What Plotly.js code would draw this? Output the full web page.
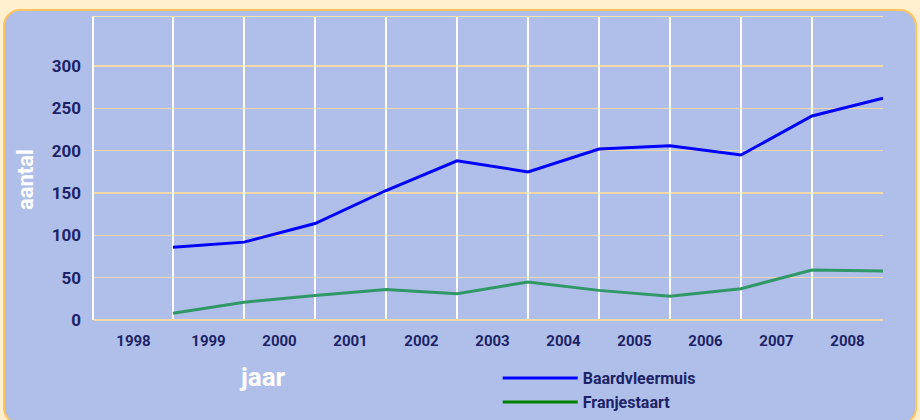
<!DOCTYPE html>
<html>
<head>
<meta charset="utf-8">
<script src="https://cdn.plot.ly/plotly-3.0.1.min.js"></script>
<style>
  html, body { margin: 0; padding: 0; width: 920px; height: 420px; overflow: hidden; background: #ffefcf; }
  #panel { position: absolute; left: 3px; top: 9px; width: 910px; height: 412px; border: 2px solid #ffc45a; border-radius: 17px; background: #b0bfe9; }
  #chart { position: absolute; left: 0; top: 0; width: 920px; height: 420px; }
</style>
</head>
<body>
<div id="panel"></div>
<div id="chart"></div>
<script>
// Data
const years = [1998, 1999, 2000, 2001, 2002, 2003, 2004, 2005, 2006, 2007, 2008];
const baardvleermuis = [86, 92, 114, 153, 188, 175, 202, 206, 195, 241, 262];
const franjestaart = [8, 21, 29, 36, 31, 45, 35, 28, 37, 59, 58];
const seriesNames = ['Baardvleermuis', 'Franjestaart'];
const yTicks = [0, 50, 100, 150, 200, 250, 300];
const yTitle = 'aantal';
const xTitle = 'jaar';

// each year's value sits on the right edge of its column
const xPos = years.map(y => y + 0.5);
const xMin = years[0] - 0.5 - 0.113;
const xMax = years[years.length - 1] + 0.5;
const bounds = [xMin].concat(xPos);
const labelPos = years.map((y, i) => (bounds[i] + bounds[i + 1]) / 2);

const navy = '#1c2366';
const lineBlue = '#0000ff';
const lineGreen = '#2f9866';
const legendGreen = '#008000';

const traces = [
  { x: xPos, y: baardvleermuis, type: 'scatter', mode: 'lines', line: { color: lineBlue, width: 3 }, showlegend: false, hoverinfo: 'skip', name: seriesNames[0] },
  { x: xPos, y: franjestaart, type: 'scatter', mode: 'lines', line: { color: lineGreen, width: 3 }, showlegend: false, hoverinfo: 'skip', name: seriesNames[1] },
  { x: [null], y: [null], type: 'scatter', mode: 'lines', line: { color: lineBlue, width: 3 }, name: seriesNames[0] },
  { x: [null], y: [null], type: 'scatter', mode: 'lines', line: { color: legendGreen, width: 3 }, name: seriesNames[1] },
  { x: [null], y: [null], type: 'scatter', mode: 'lines', xaxis: 'x2', showlegend: false, hoverinfo: 'skip' }
];

const layout = {
  width: 920, height: 420,
  margin: { l: 94, r: 37, t: 17, b: 100, autoexpand: false },
  paper_bgcolor: 'rgba(0,0,0,0)',
  plot_bgcolor: 'rgba(0,0,0,0)',
  font: { family: 'Roboto, "DejaVu Sans", sans-serif', color: navy },
  showlegend: true,
  xaxis: {
    type: 'linear', range: [xMin, xMax],
    tickvals: labelPos, ticktext: years.map(String),
    showgrid: false, zeroline: false, showline: false,
    ticks: '', ticklabelstandoff: 10, automargin: false,
    tickfont: { size: 15, color: navy, weight: 'bold' }
  },
  xaxis2: {
    type: 'linear', range: [xMin, xMax], overlaying: 'x', side: 'top',
    tickvals: xPos, showticklabels: false, ticks: '',
    showgrid: true, gridcolor: '#ffffff', gridwidth: 2.5,
    zeroline: false, showline: true, linecolor: '#ffe3a8', linewidth: 1.5
  },
  yaxis: {
    range: [0, 358], tickvals: yTicks,
    showgrid: true, gridcolor: '#f4d9a6', gridwidth: 1.5,
    zeroline: true, zerolinecolor: '#f4d9a6', zerolinewidth: 2,
    showline: true, linecolor: '#ffffff', linewidth: 2.5,
    ticks: '', ticklabelstandoff: 7, automargin: false,
    tickfont: { size: 17, color: navy, weight: 'bold' }
  },
  legend: {
    xref: 'container', yref: 'container',
    x: 0.541, xanchor: 'left', y: 0.14, yanchor: 'top',
    bgcolor: 'rgba(0,0,0,0)', borderwidth: 0,
    itemwidth: 75, tracegroupgap: 0,
    font: { size: 16, color: navy, weight: 'bold' }
  },
  annotations: [
    { text: yTitle, xref: 'paper', yref: 'paper', x: -0.0875, y: 0.465, xanchor: 'center', yanchor: 'middle',
      textangle: -90, showarrow: false, font: { size: 22, color: '#ffffff', weight: 'bold' } },
    { text: xTitle, xref: 'paper', yref: 'paper', x: 0.214, y: -0.188, xanchor: 'center', yanchor: 'middle',
      showarrow: false, font: { size: 26, color: '#ffffff', weight: 'bold' } }
  ]
};

Plotly.newPlot('chart', traces, layout, { staticPlot: true, displayModeBar: false });
</script>
</body>
</html>
